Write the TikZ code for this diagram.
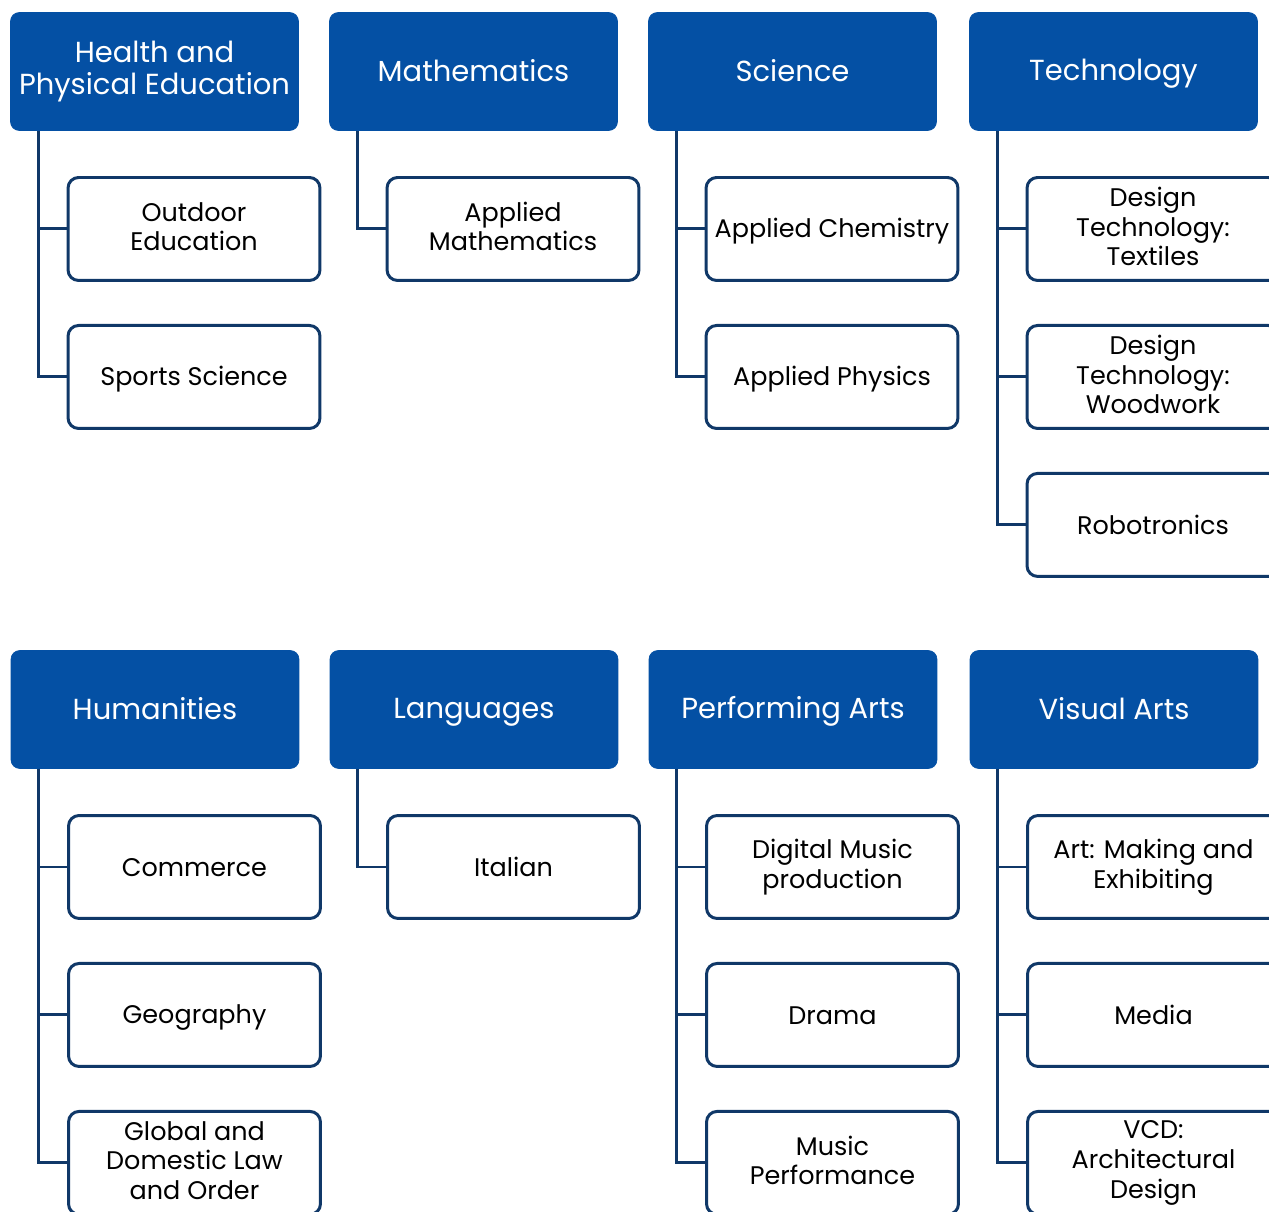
\documentclass[tikz,border=0pt]{standalone}
\usepackage{fontspec}
\setmainfont{Poppins}
\usetikzlibrary{positioning}
\definecolor{headblue}{RGB}{4,80,164}
\definecolor{navy}{RGB}{16,56,104}
\newcommand{\boxstrut}{\rule[-0.18\baselineskip]{0pt}{\baselineskip}}

\begin{document}
\begin{tikzpicture}[x=0.02cm, y=-0.02cm, node distance=2.96cm,
    every node/.style={execute at begin node=\boxstrut, execute at end node=\boxstrut},
    head/.style={rectangle, rounded corners=5pt, fill=headblue, draw=headblue, text=white, minimum width=5.76cm, minimum height=2.36cm, align=center, font=\fontsize{16.5}{18.5}\selectfont},
    sub/.style={rectangle, rounded corners=6pt, draw=navy, line width=1.7pt, fill=white, minimum width=5.04cm, minimum height=2.06cm, align=center, font=\fontsize{14.5}{16.8}\selectfont},
    link/.style={-, draw=navy, line width=1.7pt}]
    \clip (0,0) rectangle (1269,1212);

    % top row
    \node[head] (h1) at (154.5,71.5) {Health and\\Physical Education};
    \node[head] (h2) at (473.5,71.5) {Mathematics};
    \node[head] (h3) at (792.5,71.5) {Science};
    \node[head] (h4) at (1113.5,71.5) {Technology};

    \node[sub] (c11) at (194,229) {Outdoor\\Education};
    \node[sub] (c12) [below of=c11] {Sports Science};
    \node[sub] (c21) at (513,229) {Applied\\Mathematics};
    \node[sub] (c31) at (832,229) {Applied Chemistry};
    \node[sub] (c32) [below of=c31] {Applied Physics};
    \node[sub] (c41) at (1153,229) {Design\\Technology:\\Textiles};
    \node[sub] (c42) [below of=c41] {Design\\Technology:\\Woodwork};
    \node[sub] (c43) [below of=c42] {Robotronics};

    % bottom row
    \node[head] (h5) at (155,709.5) {Humanities};
    \node[head] (h6) at (474,709.5) {Languages};
    \node[head] (h7) at (793,709.5) {Performing Arts};
    \node[head] (h8) at (1114,709.5) {Visual Arts};

    \node[sub] (c51) at (194.5,867) {Commerce};
    \node[sub] (c52) [below of=c51] {Geography};
    \node[sub] (c53) [below of=c52] {Global and\\Domestic Law\\and Order};
    \node[sub] (c61) at (513.5,867) {Italian};
    \node[sub] (c71) at (832.5,867) {Digital Music\\production};
    \node[sub] (c72) [below of=c71] {Drama};
    \node[sub] (c73) [below of=c72] {Music\\Performance};
    \node[sub] (c81) at (1153.5,867) {Art: Making and\\Exhibiting};
    \node[sub] (c82) [below of=c81] {Media};
    \node[sub] (c83) [below of=c82] {VCD:\\Architectural\\Design};

    \draw[link] ([xshift=0.56cm]h1.south west) |- (c11.west);
    \draw[link] ([xshift=0.56cm]h1.south west) |- (c12.west);
    \draw[link] ([xshift=0.56cm]h2.south west) |- (c21.west);
    \draw[link] ([xshift=0.56cm]h3.south west) |- (c31.west);
    \draw[link] ([xshift=0.56cm]h3.south west) |- (c32.west);
    \draw[link] ([xshift=0.56cm]h4.south west) |- (c41.west);
    \draw[link] ([xshift=0.56cm]h4.south west) |- (c42.west);
    \draw[link] ([xshift=0.56cm]h4.south west) |- (c43.west);
    \draw[link] ([xshift=0.56cm]h5.south west) |- (c51.west);
    \draw[link] ([xshift=0.56cm]h5.south west) |- (c52.west);
    \draw[link] ([xshift=0.56cm]h5.south west) |- (c53.west);
    \draw[link] ([xshift=0.56cm]h6.south west) |- (c61.west);
    \draw[link] ([xshift=0.56cm]h7.south west) |- (c71.west);
    \draw[link] ([xshift=0.56cm]h7.south west) |- (c72.west);
    \draw[link] ([xshift=0.56cm]h7.south west) |- (c73.west);
    \draw[link] ([xshift=0.56cm]h8.south west) |- (c81.west);
    \draw[link] ([xshift=0.56cm]h8.south west) |- (c82.west);
    \draw[link] ([xshift=0.56cm]h8.south west) |- (c83.west);
\end{tikzpicture}
\end{document}
